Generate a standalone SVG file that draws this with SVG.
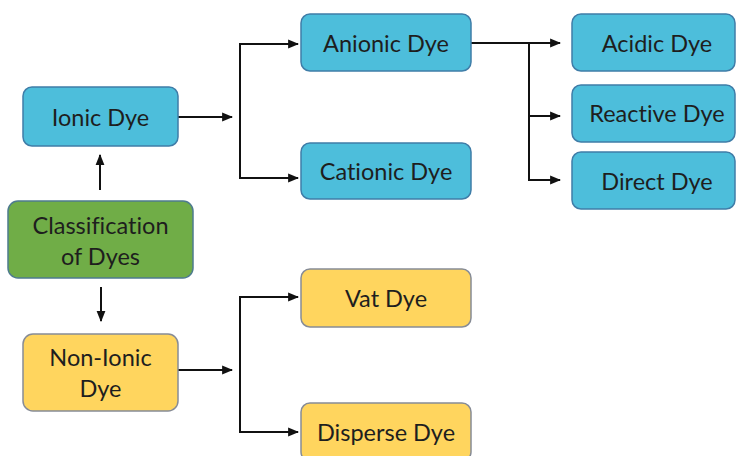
<svg xmlns="http://www.w3.org/2000/svg" width="738" height="456" viewBox="0 0 738 456">
<style>
.b{fill:#4DBEDB;stroke:#3F7DA8;stroke-width:1.5}
.g{fill:#70AD47;stroke:#4E7B8E;stroke-width:1.5}
.y{fill:#FFD55E;stroke:#878C96;stroke-width:1.5}
text{font-family:Lato,"Open Sans","Liberation Sans",sans-serif;font-size:23.5px;fill:#1E1E1E;text-anchor:middle;dominant-baseline:central;font-variant-ligatures:none;font-feature-settings:"liga" 0,"dlig" 0}
.c path{fill:none;stroke:#111;stroke-width:2}
</style>
<defs>
<marker id="a" viewBox="0 0 10 10" refX="9" refY="5" markerWidth="5.5" markerHeight="5.5" orient="auto" markerUnits="strokeWidth">
<path d="M0,1 L10,5 L0,9 Z" fill="#111"/>
</marker>
</defs>
<rect width="738" height="456" fill="#fff"/>
<g class="c">
<path d="M178,117 H232" marker-end="url(#a)"/>
<path d="M240,44 V178"/>
<path d="M239,44 H298" marker-end="url(#a)"/>
<path d="M239,178 H298" marker-end="url(#a)"/>
<path d="M471,43 H560" marker-end="url(#a)"/>
<path d="M529,43 V181"/>
<path d="M528,116 H560" marker-end="url(#a)"/>
<path d="M528,180 H560" marker-end="url(#a)"/>
<path d="M100,190 V155" marker-end="url(#a)"/>
<path d="M101,287 V321" marker-end="url(#a)"/>
<path d="M178,370 H232" marker-end="url(#a)"/>
<path d="M240,297 V432"/>
<path d="M239,297 H298" marker-end="url(#a)"/>
<path d="M239,432 H298" marker-end="url(#a)"/>
</g>
<g id="ionic"><rect class="b" x="23" y="87" width="155" height="59" rx="9"/><text x="100.5" y="117">Ionic Dye</text></g>
<g id="classification"><rect class="g" x="8" y="201" width="185" height="77" rx="10"/><text x="100.5" y="225">Classification</text><text x="100.5" y="256">of Dyes</text></g>
<g id="nonionic"><rect class="y" x="23" y="334" width="155" height="77" rx="10"/><text x="100.5" y="357">Non-Ionic</text><text x="100.5" y="388">Dye</text></g>
<g id="anionic"><rect class="b" x="301" y="14" width="170" height="57" rx="9"/><text x="386" y="43">Anionic Dye</text></g>
<g id="cationic"><rect class="b" x="301" y="143" width="170" height="56" rx="9"/><text x="386" y="171">Cationic Dye</text></g>
<g id="acidic"><rect class="b" x="572" y="14" width="163" height="57" rx="9"/><text x="657" y="43">Acidic Dye</text></g>
<g id="reactive"><rect class="b" x="572" y="85" width="163" height="57" rx="9"/><text x="657" y="113">Reactive Dye</text></g>
<g id="direct"><rect class="b" x="572" y="152" width="163" height="57" rx="9"/><text x="657" y="181">Direct Dye</text></g>
<g id="vat"><rect class="y" x="301" y="269" width="170" height="58" rx="9"/><text x="386" y="298">Vat Dye</text></g>
<g id="disperse"><rect class="y" x="301" y="403" width="170" height="58" rx="9"/><text x="386" y="432">Disperse Dye</text></g>
</svg>
